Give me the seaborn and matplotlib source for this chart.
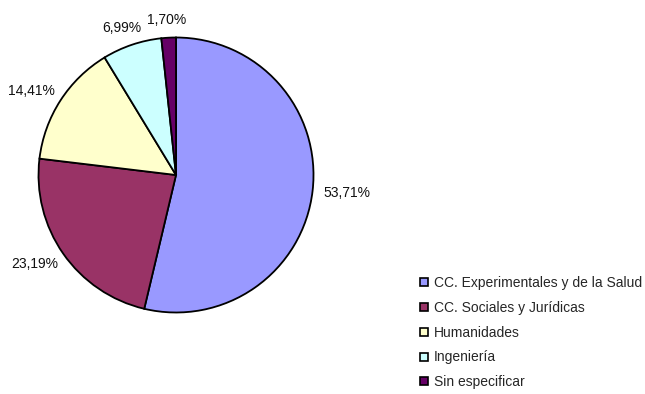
import numpy as np
import matplotlib
matplotlib.use("Agg")
import matplotlib.pyplot as plt
from matplotlib.lines import Line2D
import seaborn as sns

categories = [
    "CC. Experimentales y de la Salud",
    "CC. Sociales y Jurídicas",
    "Humanidades",
    "Ingeniería",
    "Sin especificar",
]
shares = [53.71, 23.19, 14.41, 6.99, 1.70]
slice_colors = ["#9999FF", "#993366", "#FFFFCC", "#CCFFFF", "#660066"]

sns.set_theme(style="white")
plt.rcParams["font.family"] = ["Liberation Sans", "DejaVu Sans"]

W, H = 645, 394
fig = plt.figure(figsize=(W / 100, H / 100), dpi=100)
fig.patch.set_facecolor("white")

# pie axes: centre (176, 175) px, radius ~137.5 px
cx, cy, r = 176, 175, 137.5
ax = fig.add_axes([(cx - r) / W, (H - cy - r) / H, 2 * r / W, 2 * r / H])
palette = sns.color_palette(slice_colors)

wedges, _ = ax.pie(
    shares,
    colors=palette,
    startangle=90,
    counterclock=False,
    radius=1.0,
    wedgeprops=dict(edgecolor="black", linewidth=1.3),
)
ax.set_xlim(-1, 1)
ax.set_ylim(-1, 1)
ax.set_aspect("equal")
ax.axis("off")

# percentage labels outside each slice, anchored by direction of the slice middle
d = 1.08
fig.canvas.draw()
for w, v in zip(wedges, shares):
    mid = np.deg2rad((w.theta1 + w.theta2) / 2)
    c, s = np.cos(mid), np.sin(mid)
    txt = f"{v:.2f}%".replace(".", ",")
    t = ax.text(d * c, d * s, txt, fontsize=10, color="#111111",
                ha="center", va="center")
    bb = t.get_window_extent(renderer=fig.canvas.get_renderer())
    # shift so the box edge, not its centre, faces the pie
    dx = (bb.width / 2) * c
    dy = (bb.height / 2) * s
    inv = ax.transData.inverted()
    x0, y0 = ax.transData.transform((d * c, d * s))
    t.set_position(inv.transform((x0 + dx, y0 + dy)))

handles = [
    Line2D([], [], linestyle="none", marker="s", markersize=5.5,
           markerfacecolor=col, markeredgecolor="black", markeredgewidth=1.2)
    for col in slice_colors
]
fig.legend(
    handles, categories,
    loc="upper left",
    bbox_to_anchor=(418 / W, 1 - 276 / H),
    frameon=False,
    fontsize=10,
    handlelength=0.8,
    handletextpad=0.35,
    labelspacing=0.78,
    borderpad=0,
    borderaxespad=0,
)

fig.savefig("out.png", dpi=100, facecolor="white")
